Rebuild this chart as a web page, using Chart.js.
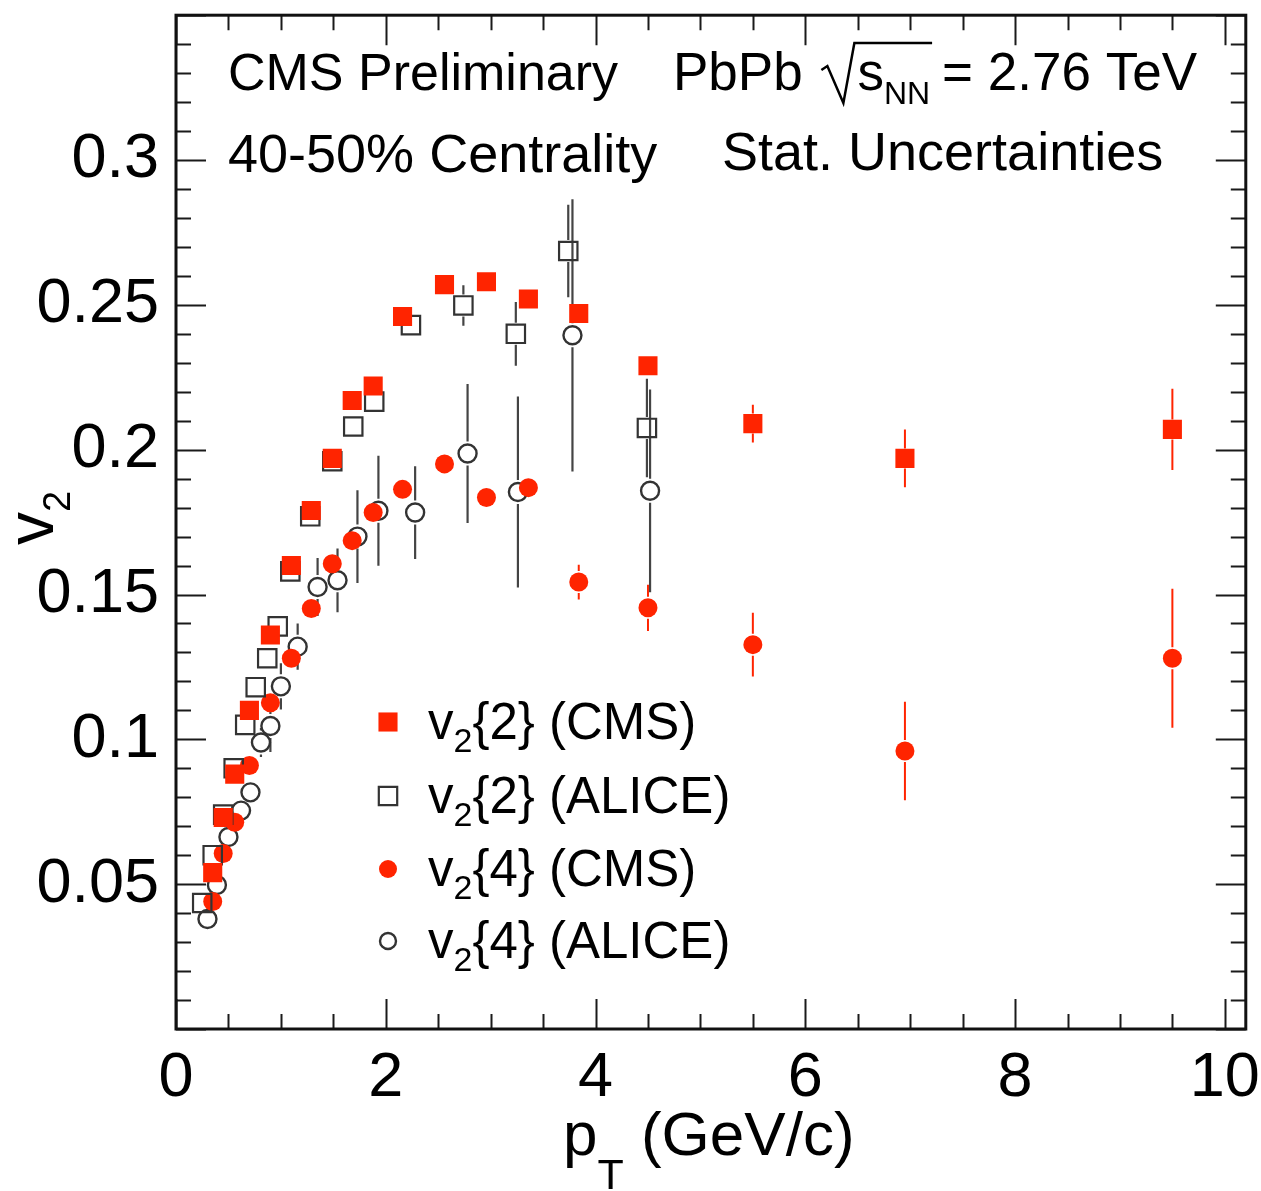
<!DOCTYPE html>
<html>
<head>
<meta charset="utf-8">
<script src="https://cdn.jsdelivr.net/npm/chart.js@4.4.1/dist/chart.umd.min.js"></script>
<style>
html, body { margin: 0; padding: 0; background: #fff; }
</style>
</head>
<body>
<canvas id="v2chart" width="1261" height="1191"></canvas>
<script>
// v2 vs pT, 40-50% centrality
const cmsPt     = [0.35, 0.45, 0.56, 0.70, 0.90, 1.10, 1.29, 1.49, 1.68, 1.88, 2.16, 2.56, 2.96, 3.36, 3.84, 4.50, 5.50, 6.95, 9.50];
const cmsV22    = [0.054, 0.073, 0.088, 0.110, 0.136, 0.160, 0.179, 0.197, 0.217, 0.222, 0.246, 0.257, 0.258, 0.252, 0.247, 0.229, 0.209, 0.197, 0.207];
const cmsV22Err = [0.001, 0.001, 0.001, 0.001, 0.001, 0.001, 0.001, 0.001, 0.001, 0.001, 0.001, 0.001, 0.001, 0.001, 0.002, 0.003, 0.0065, 0.010, 0.014];
const cmsV24    = [0.044, 0.0606, 0.0714, 0.091, 0.1126, 0.128, 0.1452, 0.1606, 0.1686, 0.1783, 0.1863, 0.1951, 0.1835, 0.1869, 0.1543, 0.1454, 0.1327, 0.096, 0.128];
const cmsV24Err = [0.001, 0.001, 0.001, 0.001, 0.001, 0.001, 0.001, 0.001, 0.001, 0.001, 0.002, 0.002, 0.002, 0.002, 0.006, 0.008, 0.011, 0.017, 0.024];

const alicePt22   = [0.25, 0.35, 0.45, 0.55, 0.66, 0.76, 0.87, 0.97, 1.09, 1.28, 1.49, 1.69, 1.89, 2.24, 2.74, 3.24, 3.74, 4.49];
const aliceV22    = [0.0435, 0.060, 0.074, 0.090, 0.105, 0.118, 0.128, 0.139, 0.158, 0.177, 0.196, 0.208, 0.2166, 0.243, 0.2498, 0.240, 0.2686, 0.2075];
const aliceV22Err = [0.001, 0.001, 0.001, 0.001, 0.001, 0.001, 0.002, 0.002, 0.002, 0.002, 0.002, 0.002, 0.003, 0.003, 0.007, 0.011, 0.016, 0.017];
const alicePt24   = [0.30, 0.39, 0.50, 0.62, 0.71, 0.81, 0.90, 1.00, 1.16, 1.35, 1.54, 1.73, 1.93, 2.28, 2.78, 3.26, 3.78, 4.52];
const aliceV24    = [0.038, 0.0497, 0.0663, 0.0754, 0.0817, 0.0989, 0.1046, 0.1183, 0.132, 0.1526, 0.1549, 0.170, 0.1789, 0.1783, 0.1987, 0.1854, 0.2395, 0.1858];
const aliceV24Err = [0.002, 0.002, 0.003, 0.003, 0.004, 0.005, 0.009, 0.008, 0.008, 0.010, 0.011, 0.016, 0.019, 0.016, 0.024, 0.033, 0.047, 0.035];

const xTicks = [0, 2, 4, 6, 8, 10];
const yTicks = [0.05, 0.1, 0.15, 0.2, 0.25, 0.3];
const xMinorStep = 0.5;
const yMinorStep = 0.01;

const RED = 'rgb(255,36,0)';
const DARK = '#333';
const FONT = '"Liberation Sans", Arial, Helvetica, sans-serif';

const toXY = (xs, ys) => xs.map((x, i) => ({ x: x, y: ys[i] }));

// error bars with a gap around the marker, ROOT style
const errorBars = {
    id: 'errorBars',
    beforeDatasetsDraw(chart) {
        const ctx = chart.ctx;
        const ys = chart.scales.y;
        const a = chart.chartArea;
        ctx.save();
        ctx.beginPath();
        ctx.rect(a.left, a.top, a.right - a.left, a.bottom - a.top);
        ctx.clip();
        chart.data.datasets.forEach((ds, di) => {
            const meta = chart.getDatasetMeta(di);
            ctx.strokeStyle = ds.errColor;
            ctx.lineWidth = ds.errWidth;
            meta.data.forEach((pt, i) => {
                const e = ds.errors[i];
                const v = ds.data[i].y;
                const top = ys.getPixelForValue(v + e);
                const bot = ys.getPixelForValue(v - e);
                ctx.beginPath();
                if (pt.y - ds.gap > top) { ctx.moveTo(pt.x, top); ctx.lineTo(pt.x, pt.y - ds.gap); }
                if (bot > pt.y + ds.gap) { ctx.moveTo(pt.x, pt.y + ds.gap); ctx.lineTo(pt.x, bot); }
                ctx.stroke();
            });
        });
        ctx.restore();
    }
};

// frame with inward ticks on all four sides
const frameTicks = {
    id: 'frameTicks',
    afterDatasetsDraw(chart) {
        const { ctx, chartArea: a, scales: { x, y } } = chart;
        ctx.save();
        ctx.strokeStyle = '#1a1a1a';
        ctx.lineWidth = 2;
        ctx.beginPath();
        const nx = Math.round(x.max / xMinorStep);
        for (let i = 0; i <= nx; i++) {
            const v = i * xMinorStep;
            const px = Math.round(x.getPixelForValue(v)) + 0.5;
            const len = xTicks.includes(v) ? 30 : 15;
            ctx.moveTo(px, a.bottom); ctx.lineTo(px, a.bottom - len);
            ctx.moveTo(px, a.top); ctx.lineTo(px, a.top + len);
        }
        const ny = Math.round(y.max / yMinorStep);
        for (let i = 0; i <= ny; i++) {
            const v = Math.round(i * yMinorStep * 100) / 100;
            const py = Math.round(y.getPixelForValue(v)) + 0.5;
            const len = (i % 5 === 0) ? 30 : 15;
            ctx.moveTo(a.left, py); ctx.lineTo(a.left + len, py);
            ctx.moveTo(a.right, py); ctx.lineTo(a.right - len, py);
        }
        ctx.stroke();
        ctx.lineWidth = 3;
        ctx.strokeStyle = '#111';
        ctx.strokeRect(a.left, a.top, a.right - a.left, a.bottom - a.top);
        ctx.restore();
    }
};

// text pieces: [string, size, baseline shift]
function partsWidth(ctx, parts) {
    let w = 0;
    parts.forEach(p => { ctx.font = p[1] + 'px ' + FONT; w += ctx.measureText(p[0]).width; });
    return w;
}
function drawParts(ctx, x, y, parts) {
    let cx = x;
    parts.forEach(p => {
        ctx.font = p[1] + 'px ' + FONT;
        ctx.fillText(p[0], cx, y + (p[2] || 0));
        cx += ctx.measureText(p[0]).width;
    });
    return cx;
}

const labelsPlugin = {
    id: 'labelsPlugin',
    afterDraw(chart) {
        const ctx = chart.ctx;
        ctx.save();
        ctx.fillStyle = '#000';
        ctx.textAlign = 'left';
        ctx.textBaseline = 'alphabetic';

        // header texts
        drawParts(ctx, 228, 90, [['CMS Preliminary', 52]]);
        drawParts(ctx, 228, 172, [['40-50% Centrality', 54]]);
        drawParts(ctx, 722, 170, [['Stat. Uncertainties', 54]]);
        let cx = drawParts(ctx, 673, 90, [['PbPb ', 53]]);
        const rx = cx + 4;
        const sx = rx + 36;
        const ex = drawParts(ctx, sx, 90, [['s', 53], ['NN', 32, 14]]);
        ctx.strokeStyle = '#000';
        ctx.lineWidth = 2.5;
        ctx.beginPath();
        ctx.moveTo(rx, 70);
        ctx.lineTo(rx + 6, 66);
        ctx.lineTo(rx + 22, 103);
        ctx.lineTo(rx + 33, 43);
        ctx.lineTo(ex + 2, 43);
        ctx.stroke();
        drawParts(ctx, ex + 12, 90, [['= 2.76 TeV', 53]]);

        // legend, markers taken from the datasets
        const rows = [722, 796, 869, 941];
        const names = [['{2} (CMS)'], ['{2} (ALICE)'], ['{4} (CMS)'], ['{4} (ALICE)']];
        chart.data.datasets.forEach((ds, i) => {
            const cy = rows[i];
            ctx.save();
            ctx.fillStyle = ds.backgroundColor;
            ctx.strokeStyle = ds.borderColor;
            ctx.lineWidth = ds.borderWidth;
            Chart.helpers.drawPoint(ctx, {
                pointStyle: ds.pointStyle,
                radius: ds.legendRadius,
                rotation: 0,
                borderWidth: ds.borderWidth
            }, 388, cy);
            ctx.restore();
            ctx.fillStyle = '#000';
            drawParts(ctx, 428, cy + 17, [['v', 51], ['2', 34, 13], [names[i][0], 51]]);
        });

        // x title
        drawParts(ctx, 563, 1155, [['p', 62], ['T', 43, 34], [' (GeV/c)', 62]]);

        // y title
        const yParts = [['v', 66], ['2', 38, 17]];
        const w = partsWidth(ctx, yParts);
        ctx.save();
        ctx.translate(53, 518);
        ctx.rotate(-Math.PI / 2);
        drawParts(ctx, -w / 2, 0, yParts);
        ctx.restore();

        ctx.restore();
    }
};

const ctx = document.getElementById('v2chart').getContext('2d');
new Chart(ctx, {
    type: 'scatter',
    data: {
        datasets: [
            {
                label: 'v2{2} (CMS)',
                data: toXY(cmsPt, cmsV22),
                errors: cmsV22Err,
                pointStyle: 'rect',
                pointRadius: 13.5,
                legendRadius: 13.5,
                backgroundColor: RED,
                borderColor: RED,
                borderWidth: 0,
                errColor: RED,
                errWidth: 2,
                gap: 10
            },
            {
                label: 'v2{2} (ALICE)',
                data: toXY(alicePt22, aliceV22),
                errors: aliceV22Err,
                pointStyle: 'rect',
                pointRadius: 13,
                legendRadius: 13,
                backgroundColor: 'rgba(0,0,0,0)',
                borderColor: DARK,
                borderWidth: 2.2,
                errColor: '#444',
                errWidth: 2.2,
                gap: 11
            },
            {
                label: 'v2{4} (CMS)',
                data: toXY(cmsPt, cmsV24),
                errors: cmsV24Err,
                pointStyle: 'circle',
                pointRadius: 9.5,
                legendRadius: 9,
                backgroundColor: RED,
                borderColor: RED,
                borderWidth: 0,
                errColor: RED,
                errWidth: 2,
                gap: 11
            },
            {
                label: 'v2{4} (ALICE)',
                data: toXY(alicePt24, aliceV24),
                errors: aliceV24Err,
                pointStyle: 'circle',
                pointRadius: 9,
                legendRadius: 8,
                backgroundColor: 'rgba(0,0,0,0)',
                borderColor: DARK,
                borderWidth: 2.4,
                errColor: '#444',
                errWidth: 2.2,
                gap: 12
            }
        ]
    },
    options: {
        responsive: false,
        animation: false,
        events: [],
        layout: { padding: { top: 10, right: 14, left: 0, bottom: 0 } },
        plugins: {
            legend: { display: false },
            tooltip: { enabled: false }
        },
        scales: {
            x: {
                type: 'linear',
                min: 0,
                max: 10.2,
                afterFit: (s) => { s.height = 162; s.paddingLeft = 0; s.paddingRight = 0; },
                grid: { display: false, drawTicks: false },
                border: { display: false },
                ticks: {
                    stepSize: 2,
                    includeBounds: false,
                    autoSkip: false,
                    maxRotation: 0,
                    padding: 12,
                    color: '#000',
                    font: { family: FONT, size: 63 },
                    callback: (v) => xTicks.includes(v) ? String(v) : ''
                }
            },
            y: {
                type: 'linear',
                min: 0,
                max: 0.35,
                afterFit: (s) => { s.width = 176; s.paddingTop = 0; s.paddingBottom = 0; },
                grid: { display: false, drawTicks: false },
                border: { display: false },
                ticks: {
                    stepSize: 0.05,
                    includeBounds: false,
                    autoSkip: false,
                    padding: 17,
                    color: '#000',
                    font: { family: FONT, size: 63 },
                    callback: (v) => {
                        const r = Math.round(v * 100) / 100;
                        return yTicks.includes(r) ? String(r) : '';
                    }
                }
            }
        }
    },
    plugins: [errorBars, frameTicks, labelsPlugin]
});
</script>
</body>
</html>
